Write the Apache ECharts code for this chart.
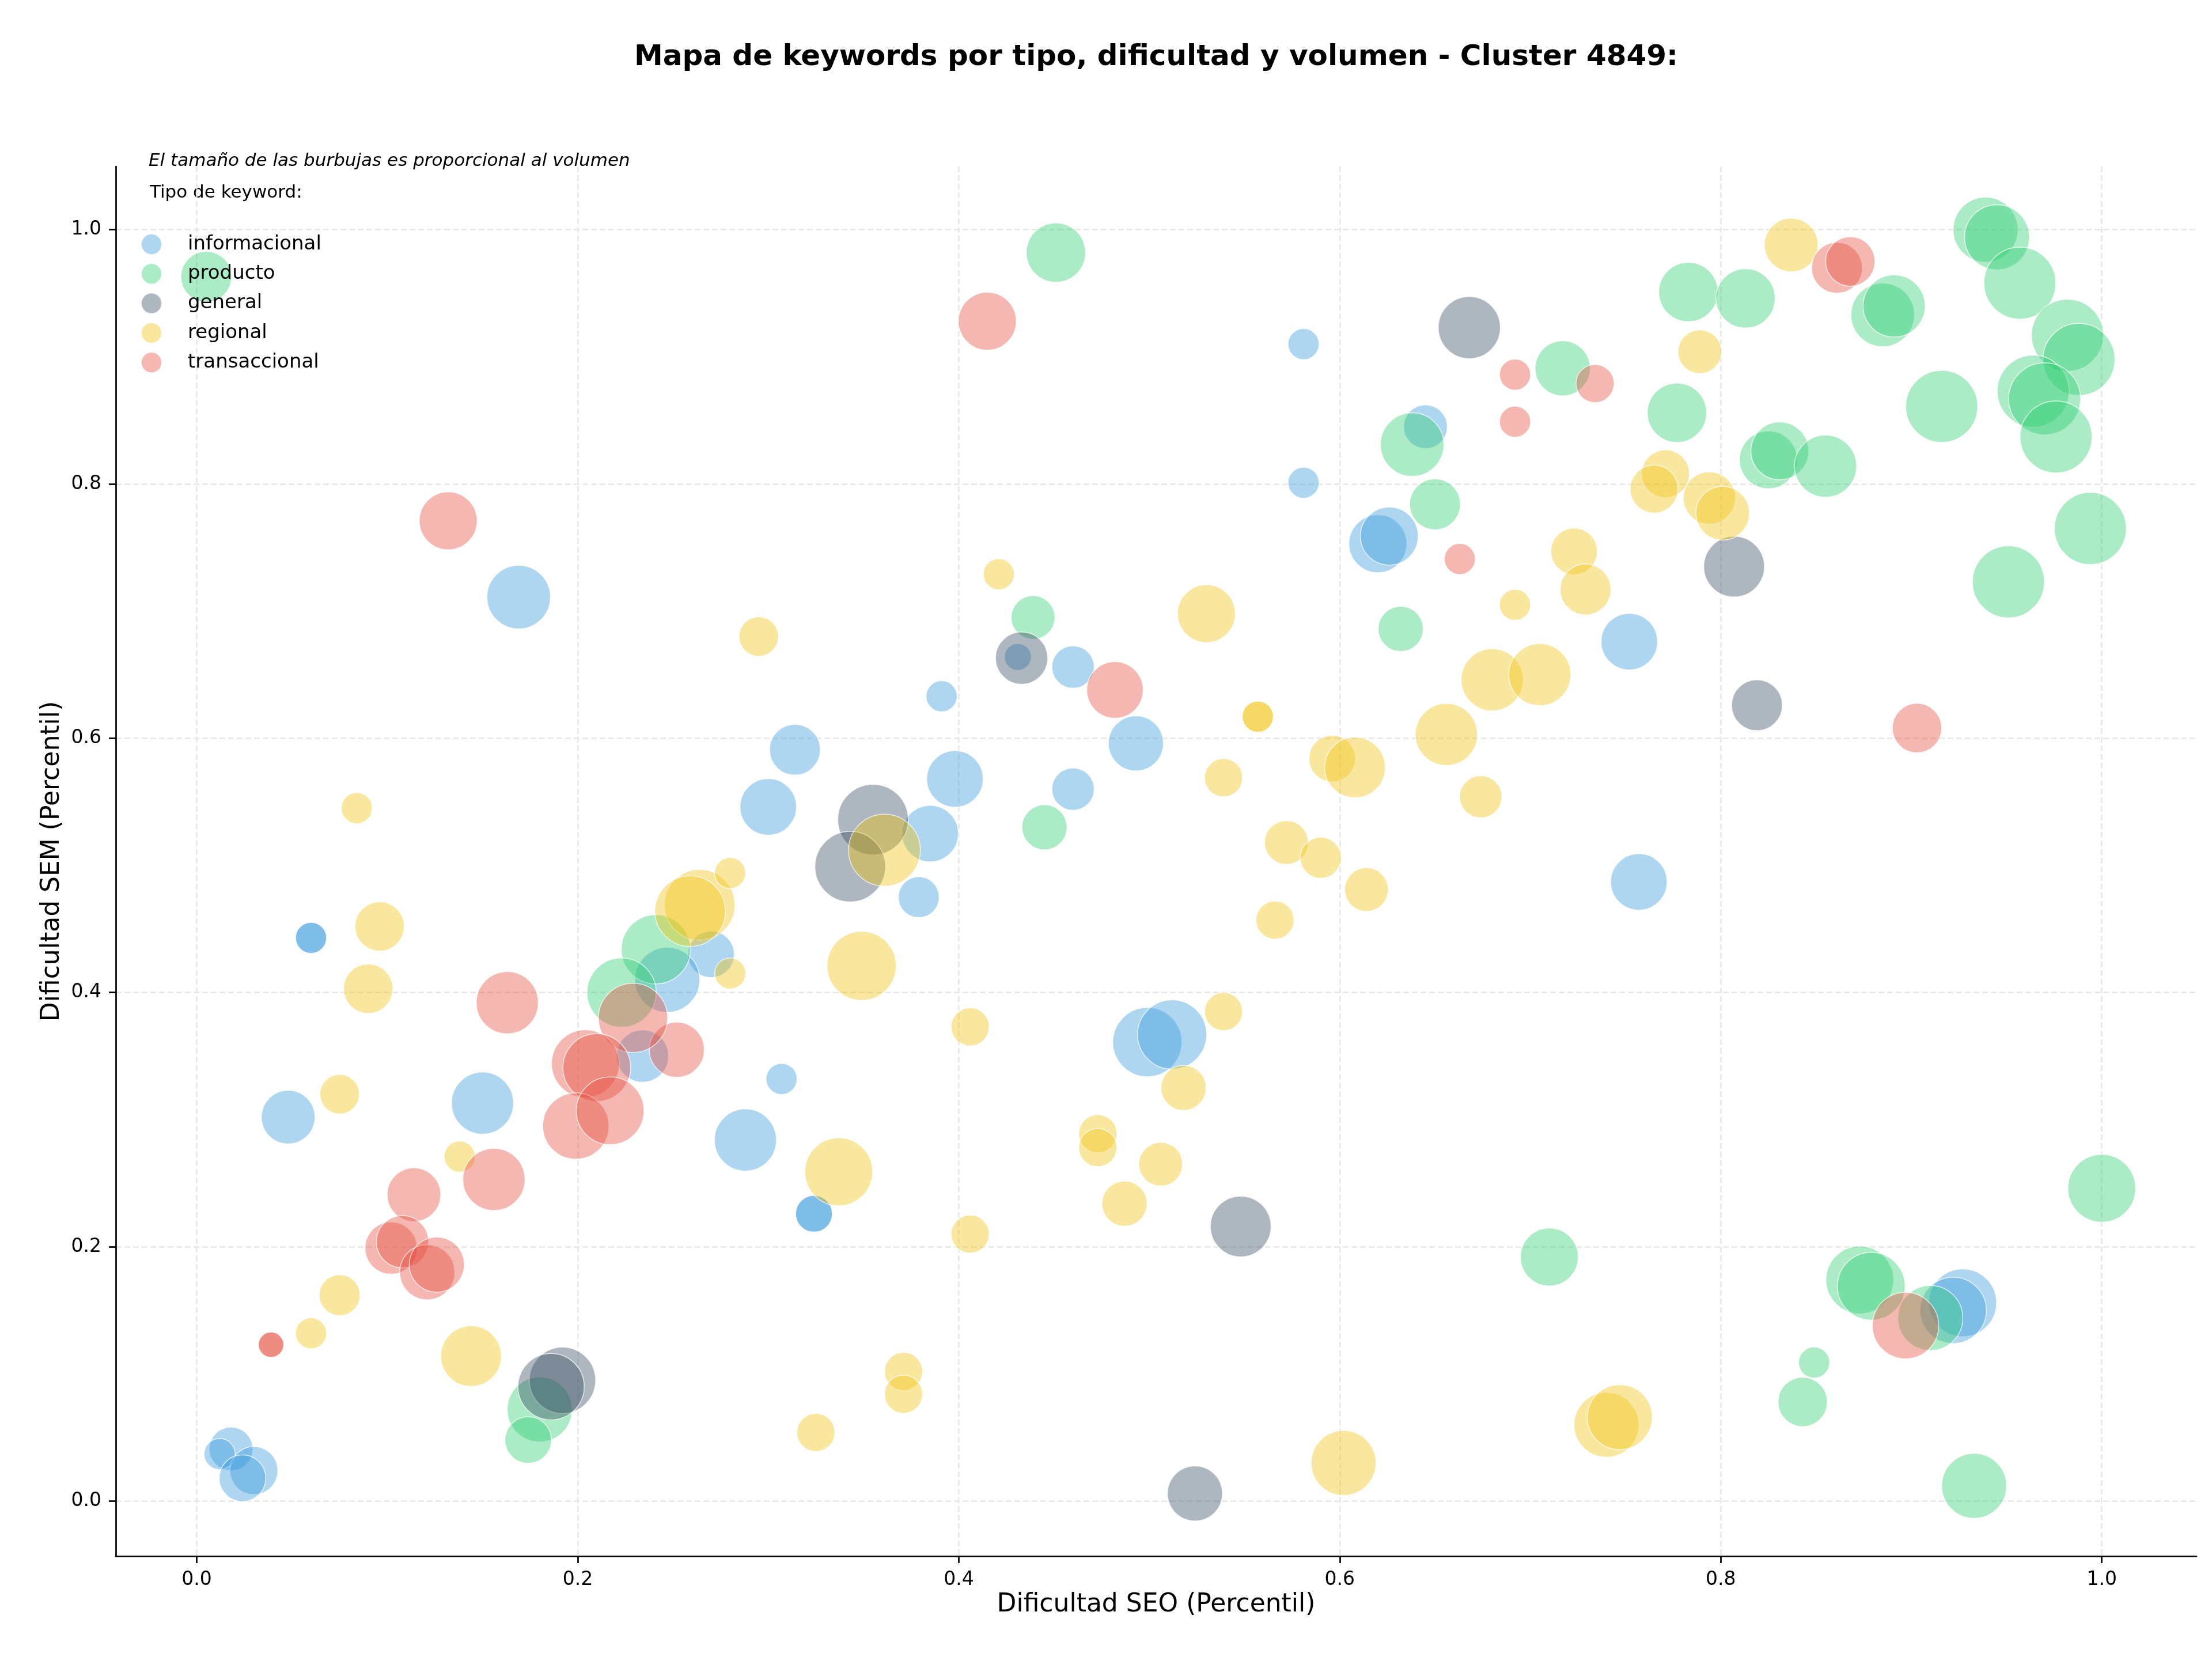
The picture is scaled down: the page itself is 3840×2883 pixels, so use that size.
<!DOCTYPE html>
<html>
<head>
<meta charset="utf-8">
<title>Mapa de keywords - Cluster 4849</title>
<script src="https://cdn.jsdelivr.net/npm/echarts@6/dist/echarts.min.js"></script>
<style>
    html, body { margin: 0; padding: 0; background: #fff; }
    #chart { width: 3840px; height: 2883px; }
</style>
</head>
<body>
<div id="chart"></div>
<script>
// [dificultad SEO, dificultad SEM, volumen]
var informacional = [
    [0.581, 0.910, 484], [0.581, 0.801, 484], [0.645, 0.845, 961], [0.620, 0.753, 1681], [0.626, 0.759, 1681],
    [0.752, 0.676, 1600], [0.757, 0.487, 1600], [0.460, 0.656, 900], [0.391, 0.633, 484], [0.431, 0.664, 361],
    [0.493, 0.596, 1521], [0.314, 0.591, 1296], [0.398, 0.568, 1600], [0.460, 0.560, 900], [0.300, 0.546, 1600],
    [0.385, 0.525, 1600], [0.379, 0.475, 841], [0.270, 0.430, 1089], [0.247, 0.410, 2116], [0.234, 0.350, 1369],
    [0.169, 0.711, 2025], [0.150, 0.313, 1936], [0.048, 0.302, 1444], [0.288, 0.284, 1936], [0.307, 0.332, 484],
    [0.060, 0.443, 484], [0.060, 0.443, 484], [0.324, 0.226, 676], [0.324, 0.226, 676], [0.499, 0.361, 2401],
    [0.512, 0.367, 2401], [0.018, 0.041, 961], [0.012, 0.037, 484], [0.030, 0.024, 1156], [0.024, 0.018, 1089],
    [0.927, 0.156, 2304], [0.922, 0.150, 2209]
];
var producto = [
    [0.005, 0.963, 1296], [0.451, 0.982, 1764], [0.638, 0.831, 2025], [0.650, 0.784, 1296], [0.632, 0.686, 1024],
    [0.439, 0.695, 961], [0.445, 0.530, 1024], [0.717, 0.891, 1521], [0.783, 0.951, 1764], [0.813, 0.946, 1764],
    [0.777, 0.856, 1764], [0.825, 0.819, 1681], [0.831, 0.826, 1681], [0.855, 0.814, 1936], [0.885, 0.933, 2025],
    [0.891, 0.940, 1936], [0.916, 0.861, 2601], [0.939, 1.000, 2116], [0.945, 0.994, 2116], [0.957, 0.958, 2601],
    [0.982, 0.917, 2601], [0.988, 0.898, 2601], [0.964, 0.873, 2601], [0.970, 0.867, 2601], [0.976, 0.837, 2601],
    [0.994, 0.765, 2601], [0.951, 0.723, 2601], [1.000, 0.246, 2304], [0.710, 0.192, 1681], [0.873, 0.174, 2304],
    [0.879, 0.169, 2304], [0.910, 0.144, 2116], [0.849, 0.109, 484], [0.843, 0.078, 1225], [0.933, 0.012, 2116],
    [0.180, 0.072, 2116], [0.174, 0.048, 1089], [0.241, 0.434, 2401], [0.223, 0.400, 2401]
];
var general = [
    [0.668, 0.923, 1936], [0.807, 0.735, 1849], [0.819, 0.626, 1296], [0.433, 0.663, 1369], [0.355, 0.536, 2500],
    [0.343, 0.499, 2500], [0.548, 0.216, 1849], [0.524, 0.006, 1521], [0.192, 0.095, 2209], [0.186, 0.090, 2209]
];
var regional = [
    [0.837, 0.988, 1444], [0.789, 0.904, 961], [0.771, 0.808, 1156], [0.765, 0.796, 1156], [0.794, 0.789, 1369],
    [0.801, 0.777, 1444], [0.723, 0.747, 1089], [0.729, 0.717, 1296], [0.692, 0.705, 484], [0.530, 0.698, 1681],
    [0.421, 0.729, 484], [0.295, 0.680, 784], [0.557, 0.617, 484], [0.557, 0.617, 484], [0.680, 0.646, 1936],
    [0.705, 0.650, 1936], [0.656, 0.603, 1936], [0.596, 0.584, 1089], [0.608, 0.577, 1849], [0.539, 0.569, 729],
    [0.674, 0.554, 900], [0.572, 0.518, 961], [0.590, 0.506, 841], [0.614, 0.481, 961], [0.566, 0.457, 729],
    [0.539, 0.385, 729], [0.518, 0.325, 1024], [0.506, 0.265, 961], [0.487, 0.234, 1024], [0.473, 0.289, 729],
    [0.473, 0.278, 729], [0.406, 0.373, 729], [0.406, 0.210, 729], [0.371, 0.102, 729], [0.371, 0.084, 729],
    [0.325, 0.054, 729], [0.337, 0.259, 2304], [0.349, 0.421, 2401], [0.361, 0.512, 2601], [0.264, 0.469, 2500],
    [0.259, 0.464, 2500], [0.280, 0.494, 484], [0.280, 0.415, 484], [0.084, 0.545, 484], [0.096, 0.452, 1225],
    [0.090, 0.403, 1225], [0.075, 0.320, 784], [0.138, 0.271, 484], [0.075, 0.162, 841], [0.060, 0.132, 484],
    [0.144, 0.114, 1849], [0.602, 0.030, 2116], [0.740, 0.060, 2116], [0.747, 0.066, 2116]
];
var transaccional = [
    [0.415, 0.928, 1681], [0.861, 0.970, 1296], [0.868, 0.975, 1225], [0.692, 0.886, 484], [0.692, 0.849, 484],
    [0.734, 0.879, 729], [0.663, 0.741, 484], [0.482, 0.638, 1600], [0.903, 0.608, 1225], [0.132, 0.771, 1681],
    [0.163, 0.392, 1936], [0.252, 0.355, 1521], [0.229, 0.380, 2401], [0.204, 0.344, 2304], [0.210, 0.341, 2304],
    [0.199, 0.295, 2209], [0.217, 0.307, 2304], [0.156, 0.253, 1936], [0.114, 0.241, 1444], [0.102, 0.199, 1369],
    [0.108, 0.204, 1369], [0.121, 0.180, 1521], [0.126, 0.186, 1521], [0.039, 0.123, 324], [0.039, 0.123, 324],
    [0.897, 0.138, 2209]
];
var tipos = ['informacional', 'producto', 'general', 'regional', 'transaccional'];
var tickValues = [0, 0.2, 0.4, 0.6, 0.8, 1.0];

var colores = {
    informacional: 'rgba(52,152,219,0.5)',
    producto: 'rgba(46,204,113,0.5)',
    general: 'rgba(52,73,94,0.5)',
    regional: 'rgba(241,196,15,0.5)',
    transaccional: 'rgba(231,76,60,0.5)'
};
var datos = {
    informacional: informacional,
    producto: producto,
    general: general,
    regional: regional,
    transaccional: transaccional
};

var FONT = 'DejaVu Sans';
var myChart = echarts.init(document.getElementById('chart'), null, { renderer: 'canvas' });

function ejeValor(nombre, min, max, gap) {
    return {
        type: 'value',
        min: min,
        max: max,
        name: nombre,
        nameLocation: 'middle',
        nameGap: gap,
        nameTextStyle: { fontFamily: FONT, fontSize: 44, color: '#000' },
        axisLine: { show: true, onZero: false, lineStyle: { color: '#000', width: 2.7 } },
        axisTick: { show: true, length: 12, customValues: tickValues, lineStyle: { color: '#000', width: 2.7 } },
        axisLabel: {
            customValues: tickValues,
            margin: 25,
            fontFamily: FONT,
            fontSize: 33,
            color: '#000',
            formatter: function(v) { return v.toFixed(1); }
        },
        splitLine: { show: true, lineStyle: { color: '#e6e6e6', width: 2.5, type: [10, 5] } }
    };
}

var series = tipos.map(function(t) {
    return {
        name: t,
        type: 'scatter',
        data: datos[t],
        symbolSize: function(v) { return Math.sqrt(v[2]) * 2.449; },
        itemStyle: { color: colores[t], borderColor: 'rgba(255,255,255,0.9)', borderWidth: 1.5 },
        emphasis: { disabled: true }
    };
});

var option = {
    animation: false,
    backgroundColor: '#fff',
    grid: { left: 201, right: 27, top: 289, bottom: 182 },
    xAxis: ejeValor('Dificultad SEO (Percentil)', -0.0425, 1.0497, 62),
    yAxis: ejeValor('Dificultad SEM (Percentil)', -0.0433, 1.0497, 88),
    legend: {
        orient: 'vertical',
        left: 239,
        top: 400,
        itemWidth: 116,
        itemHeight: 36,
        itemGap: 13.3,
        icon: 'circle',
        selectedMode: false,
        data: tipos,
        textStyle: { fontFamily: FONT, fontSize: 34, color: '#000', lineHeight: 36 }
    },
    graphic: [
        {
            type: 'text', x: 2007, y: 100,
            style: {
                text: 'Mapa de keywords por tipo, dificultad y volumen - Cluster 4849:',
                fontFamily: FONT, fontSize: 50, fontWeight: 'bold', fill: '#000',
                textAlign: 'center', textVerticalAlign: 'middle'
            }
        },
        {
            type: 'text', x: 258, y: 280,
            style: {
                text: 'El tamaño de las burbujas es proporcional al volumen',
                fontFamily: FONT, fontSize: 31, fontStyle: 'italic', fill: '#000',
                textAlign: 'left', textVerticalAlign: 'middle'
            }
        },
        {
            type: 'text', x: 260, y: 335,
            style: {
                text: 'Tipo de keyword:',
                fontFamily: FONT, fontSize: 31, fill: '#000',
                textAlign: 'left', textVerticalAlign: 'middle'
            }
        }
    ],
    series: series
};

myChart.setOption(option);
</script>
</body>
</html>
